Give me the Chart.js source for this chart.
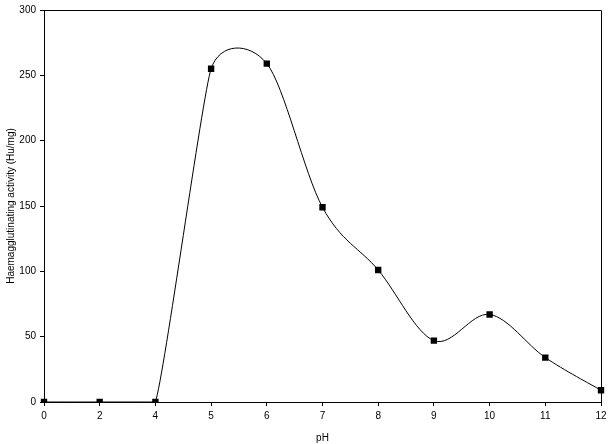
<!DOCTYPE html>
<html>
<head>
<meta charset="utf-8">
<script src="https://cdn.jsdelivr.net/npm/chart.js@4"></script>
<style>
  html, body { margin: 0; padding: 0; background: #fff; }
  #wrap { width: 611px; height: 444px; }
</style>
</head>
<body>
<div id="wrap"><canvas id="phChart" width="611" height="444"></canvas></div>
<script>
// pH values (plotted as evenly spaced categories, like the original)
const phLabels = ['0', '2', '4', '5', '6', '7', '8', '9', '10', '11', '12'];
// Haemagglutinating activity (Hu/mg)
const activity = [0, 0, 0, 255, 259, 149, 101, 47, 67, 34, 9];

const FONT = { family: 'Arial, "Liberation Sans", sans-serif', size: 10 };

// draw the top/right edges of the plot box
const boxPlugin = {
    id: 'box',
    afterDraw(chart) {
        const a = chart.chartArea;
        const ctx = chart.ctx;
        ctx.save();
        ctx.strokeStyle = '#000';
        ctx.lineWidth = 1;
        ctx.beginPath();
        ctx.moveTo(Math.round(a.left) + 0.5, Math.round(a.top) + 0.5);
        ctx.lineTo(Math.round(a.right) + 0.5, Math.round(a.top) + 0.5);
        ctx.lineTo(Math.round(a.right) + 0.5, Math.round(a.bottom) + 0.5);
        ctx.stroke();
        ctx.restore();
    }
};

// spreadsheet-style smoothing: tangent arm = (next - prev) / 6,
// shortened so it never exceeds half of the shorter neighbouring segment
const smoothPlugin = {
    id: 'smooth',
    beforeDatasetDraw(chart, args) {
        const meta = args.meta;
        const area = chart.chartArea;
        meta.dataset.updateControlPoints(area, 'x');
        const pts = meta.data;
        const dist = (a, b) => Math.hypot(b.x - a.x, b.y - a.y);
        const capX = v => Math.max(area.left, Math.min(area.right, v));
        const capY = v => Math.max(area.top, Math.min(area.bottom, v));
        for (let i = 0; i < pts.length; i++) {
            const p = pts[i];
            const prev = pts[i - 1] || p;
            const next = pts[i + 1] || p;
            const dpn = dist(prev, next);
            let f = 1 / 6;
            const segs = [];
            if (prev !== p) segs.push(dist(prev, p));
            if (next !== p) segs.push(dist(p, next));
            if (dpn > 0) f = Math.min(f, 0.5 * Math.min(...segs) / dpn);
            const dx = (next.x - prev.x) * f;
            const dy = (next.y - prev.y) * f;
            p.cp1x = capX(p.x - dx);
            p.cp1y = capY(p.y - dy);
            p.cp2x = capX(p.x + dx);
            p.cp2y = capY(p.y + dy);
        }
    }
};

const ctx = document.getElementById('phChart').getContext('2d');
const phChart = new Chart(ctx, {
    type: 'line',
    data: {
        labels: phLabels,
        datasets: [{
            label: 'Activity',
            data: activity,
            borderColor: '#000',
            borderWidth: 1,
            backgroundColor: '#000',
            pointStyle: 'rect',
            pointRadius: 4.5,
            pointBorderWidth: 0,
            tension: 0.4,
            fill: false
        }]
    },
    options: {
        responsive: false,
        animation: false,
        layout: { padding: { top: 9, right: 10, left: 5, bottom: 0 } },
        plugins: {
            legend: { display: false },
            tooltip: { enabled: false }
        },
        scales: {
            x: {
                type: 'category',
                offset: false,
                grid: { display: true, drawOnChartArea: false, tickLength: 4, color: '#000' },
                border: { color: '#000', width: 1 },
                ticks: { color: '#000', font: FONT, padding: 4, maxRotation: 0, autoSkip: false },
                title: { display: true, text: 'pH', color: '#000', font: FONT, padding: { top: 2, bottom: 0 } },
                afterFit(scale) { scale.height = 42; }
            },
            y: {
                min: 0,
                max: 300,
                ticks: { stepSize: 50, color: '#000', font: FONT, padding: 4 },
                grid: { display: true, drawOnChartArea: false, tickLength: 4, color: '#000' },
                border: { color: '#000', width: 1 },
                title: { display: true, text: 'Haemagglutinating activity (Hu/mg)', color: '#000', font: FONT, padding: { top: 0, bottom: 4 } },
                afterFit(scale) { scale.width = 39; }
            }
        }
    },
    plugins: [boxPlugin, smoothPlugin]
});
</script>
</body>
</html>
